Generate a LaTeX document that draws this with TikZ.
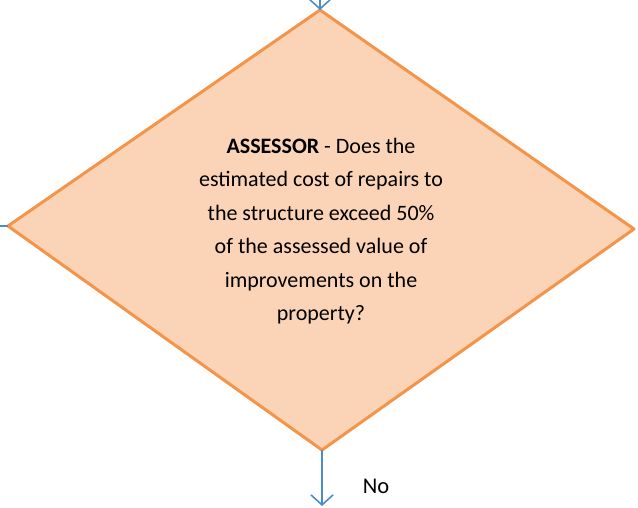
\documentclass[tikz,border=0pt]{standalone}
\usepackage{fontspec}
\setmainfont{Carlito}
\usetikzlibrary{arrows.meta}
\definecolor{decfill}{RGB}{251,212,183}
\definecolor{decline}{RGB}{244,148,72}
\definecolor{flowblue}{RGB}{74,140,206}
\begin{document}
\begin{tikzpicture}[x=1pt, y=-1pt, line width=1pt,
  flow/.style={draw=flowblue, line width=1.8pt, -{Straight Barb[length=10pt, width=22pt, line width=1.6pt]}}]
  \useasboundingbox (0,0) rectangle (638,508);
  % decision corners
  \coordinate (top) at (320,10);
  \coordinate (left) at (8,226);
  \coordinate (right) at (634,229);
  \coordinate (bottom) at (322,450);
  \coordinate (in) at (320,-30);
  \coordinate (yes) at (-10,226);
  \coordinate (no) at (322,506);
  \filldraw[fill=decfill, draw=decline, line width=3pt, line join=round]
    (top) -- (right) -- (bottom) -- (left) -- cycle;
  \node[align=center, font=\fontsize{22}{33.5}\selectfont] (question) at (321,231)
    {\textbf{ASSESSOR} - Does the\\ estimated cost of repairs to\\ the structure exceed 50\%\\
     of the assessed value of\\ improvements on the\\ property?};
  \draw[flow] (in) -- (top);
  \draw[draw=flowblue, line width=1.8pt] (left) -- (yes);
  \draw[flow] (bottom) -- (no);
  \node[font=\fontsize{22.5}{27}\selectfont, anchor=west] (nolabel) at (359,486) {No};
\end{tikzpicture}
\end{document}
